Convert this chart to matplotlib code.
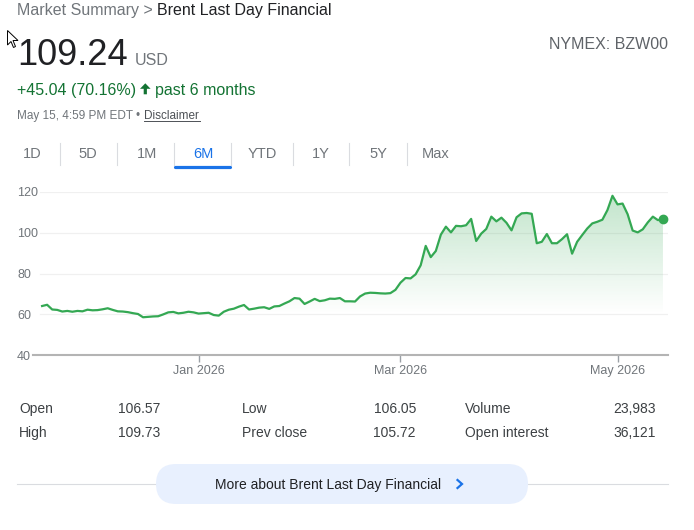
import numpy as np
import pandas as pd
import matplotlib
matplotlib.use('Agg')
import matplotlib.pyplot as plt
from matplotlib.patches import FancyBboxPatch, Polygon

plt.rcParams['font.family'] = ['Liberation Sans', 'DejaVu Sans']

# daily settles, Brent Last Day Financial, last 6 months (trading days)
prices = [
    64.1, 64.7, 62.4, 62.2, 61.4, 61.7, 61.3, 61.7, 61.5, 62.3,
    62.0, 62.1, 62.5, 63.0, 62.2, 61.5, 61.4, 61.1, 60.6, 60.2,
    58.6, 58.8, 59.0, 59.1, 60.0, 61.0, 61.2, 60.5, 60.8, 61.3,
    61.0, 60.4, 60.6, 60.8, 59.7, 59.4, 61.3, 62.3, 62.8, 63.8,
    64.6, 62.4, 62.8, 63.3, 63.5, 62.7, 63.9, 64.1, 65.3, 66.4,
    68.0, 67.7, 65.1, 66.3, 67.6, 66.5, 66.9, 67.7, 67.6, 68.0,
    66.4, 66.4, 66.3, 68.8, 70.2, 70.6, 70.5, 70.3, 70.2, 70.4,
    72.0, 75.5, 77.8, 77.6, 79.6, 84.0, 93.5, 88.0, 91.0, 99.0,
    102.9, 100.1, 103.3, 103.1, 103.6, 106.7, 95.9, 99.5, 101.8, 107.8,
    105.5, 107.3, 104.8, 101.1, 107.5, 109.4, 109.6, 109.2, 94.8, 95.5,
    99.3, 94.8, 94.8, 96.8, 99.2, 89.7, 95.5, 98.8, 102.0, 104.5,
    105.3, 106.3, 111.0, 118.0, 113.8, 114.2, 109.0, 101.0, 100.1, 101.6,
    105.0, 107.8, 106.1, 106.5,
]
last_date = '2026-05-14'
holidays = ['2025-11-27', '2025-12-25', '2026-01-01', '2026-01-19',
            '2026-04-03']
tick_months = ['2026-01-01', '2026-03-01', '2026-05-01']
tick_labels = ['Jan 2026', 'Mar 2026', 'May 2026']
y_ticks = [40, 60, 80, 100, 120]

tabs = ['1D', '5D', '1M', '6M', 'YTD', '1Y', '5Y', 'Max']
active_tab = '6M'

stats_labels = [['Open', 'High'], ['Low', 'Prev close'], ['Volume', 'Open interest']]
stats_values = [['106.57', '109.73'], ['106.05', '105.72'], ['23,983', '36,121']]

dates = pd.bdate_range(end=last_date, periods=len(prices), freq='C',
                       holidays=holidays)
x = np.arange(len(prices))
tick_pos = [dates.searchsorted(pd.Timestamp(m)) for m in tick_months]

W, H = 694, 530
GREEN = '#34a853'
GRAY = '#70757a'
DARK = '#202124'
BLUE = '#1a73e8'
UP = '#137333'

fig = plt.figure(figsize=(W / 100, H / 100), dpi=100)

# ---- chart ----
ax = fig.add_axes([33 / W, 1 - 355.3 / H, 635 / W, 163.6 / H])
ax.set_xlim(-1.8, 124)
ax.set_ylim(40, 120)
for v in y_ticks[1:]:
    ax.axhline(v, xmin=7 / 635, color='#f0f0f0', lw=0.9, zorder=0)

poly = ax.fill_between(x, prices, 40, color='none', lw=0)
yy = np.linspace(40, 120, 256)
grad = np.zeros((256, 1, 4))
grad[..., 0:3] = matplotlib.colors.to_rgb(GREEN)
grad[:, 0, 3] = 0.30 * np.clip((yy - 60) / (118 - 60), 0, 1)
im = ax.imshow(grad, extent=[x[0], x[-1], 40, 120], origin='lower',
               aspect='auto', zorder=1, interpolation='bilinear')
im.set_clip_path(poly.get_paths()[0], transform=ax.transData)

ax.plot(x, prices, color=GREEN, lw=1.6, solid_joinstyle='round', zorder=3)
ax.plot(x[-1], prices[-1], 'o', ms=6, color=GREEN, zorder=4)

for s in ['top', 'right', 'left']:
    ax.spines[s].set_visible(False)
ax.spines['bottom'].set_color('#b4b4b4')
ax.spines['bottom'].set_linewidth(1.5)

ax.set_yticks(y_ticks)
ax.tick_params(axis='y', length=0, pad=11.5, labelcolor=GRAY, labelsize=9)
for t in ax.get_yticklabels():
    t.set_ha('left')
ax.set_xticks(tick_pos, tick_labels)
ax.tick_params(axis='x', length=5, width=1, color='#9aa0a6', pad=2,
               labelcolor=GRAY, labelsize=9)

# ---- page elements, in pixel units ----
ov = fig.add_axes([0, 0, 1, 1])
ov.set_xlim(0, W)
ov.set_ylim(H, 0)
ov.axis('off')

ov.add_patch(Polygon([(7.5, 30.5), (7.5, 45), (11, 41.5), (13.5, 47.5),
                      (15.5, 46.5), (13, 40.5), (18, 40.5)], closed=True,
                     facecolor='white', edgecolor='black', lw=0.7))

ov.text(17, 15, 'Market Summary >', fontsize=11.5, color=GRAY)
ov.text(157, 15, 'Brent Last Day Financial', fontsize=11.5, color=DARK)
ov.text(17, 65, '109.24', fontsize=26, color=DARK)
ov.text(135, 65, 'USD', fontsize=11.5, color=GRAY)
ov.text(668, 49, 'NYMEX: BZW00', fontsize=11.5, color='#5f6368', ha='right')
ov.text(17, 95, '+45.04 (70.16%)', fontsize=11.5, color=UP)
# up arrow icon
ov.add_patch(Polygon([(145.3, 83.3), (150.6, 88.8), (146.9, 88.8),
                      (146.9, 94.3), (143.7, 94.3), (143.7, 88.8),
                      (140.0, 88.8)], closed=True, facecolor=UP,
                     edgecolor='none'))
ov.text(155, 95, 'past 6 months', fontsize=11.5, color=UP)
ov.text(17, 119, 'May 15, 4:59 PM EDT \u2022', fontsize=8.5, color=GRAY)
ov.text(144, 119, 'Disclaimer', fontsize=8.5, color='#4d5156')
ov.plot([144, 200], [121, 121], color='#4d5156', lw=0.7)

tab_x = [32, 88, 147, 203, 262, 321, 378, 436]
sep_x = [60, 117, 174, 231, 293, 349, 407]
for tx, name in zip(tab_x, tabs):
    ov.text(tx, 154, name, fontsize=10.5, ha='center', va='center',
            color=BLUE if name == active_tab else GRAY)
for sx in sep_x:
    ov.plot([sx, sx], [143, 165], color='#dadce0', lw=0.8)
i = tabs.index(active_tab)
ov.plot([sep_x[i - 1] + 1, sep_x[i] - 1], [167, 167], color=BLUE, lw=2.3,
        solid_capstyle='round')

label_x = [19, 242, 465]
value_x = [160, 416, 656]
for c in range(3):
    for r, ry in enumerate([409, 433]):
        ov.text(label_x[c], ry, stats_labels[c][r], fontsize=10,
                color='#3c4043', va='center')
        ov.text(value_x[c], ry, stats_values[c][r], fontsize=10,
                color='#3c4043', va='center', ha='right')

ov.plot([17, 668], [484, 484], color='#dadce0', lw=0.8, zorder=1)
ov.add_patch(FancyBboxPatch((156, 464), 372, 40,
                            boxstyle='round,pad=0,rounding_size=20',
                            facecolor='#e8f0fe', edgecolor='none', zorder=2))
ov.text(215, 484.5, 'More about Brent Last Day Financial', fontsize=10,
        color=DARK, va='center', zorder=3)
ov.plot([457.5, 462, 457.5], [480, 484, 488], color=BLUE, lw=1.6,
        solid_joinstyle='miter', zorder=3)

fig.savefig('out.png', dpi=100)
